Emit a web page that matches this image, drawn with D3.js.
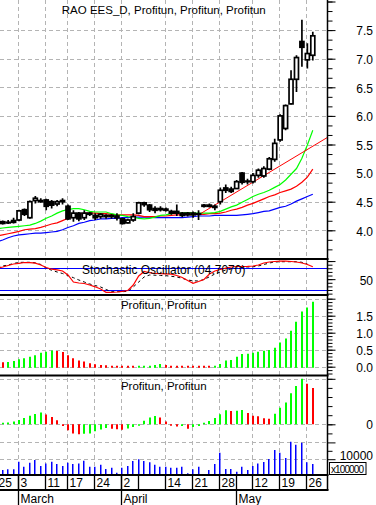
<!DOCTYPE html>
<html lang="en">
  <head>
    <meta charset="UTF-8" />
    <script src="https://d3js.org/d3.v7.min.js"></script>
    <title>RAO EES_D</title>
    <style>
      body { margin: 0; background: #fff; }
      svg { display: block; font-family: "Liberation Sans", Arial, sans-serif; }
    </style>
  </head>
  <body>
    <svg width="376" height="505"></svg>
    <script>
      // trading days, Feb 25 sits just left of the visible area
      var dates = ["02-25","02-26","02-27","02-28","03-03","03-04","03-05","03-06","03-07","03-11","03-12","03-13","03-14",
        "03-17","03-18","03-19","03-20","03-21","03-24","03-25","03-26","03-27","03-28","04-02","04-03","04-04",
        "04-07","04-08","04-09","04-10","04-11","04-14","04-15","04-16","04-17","04-18","04-21","04-22","04-23","04-24","04-25",
        "04-28","04-29","04-30","05-06","05-07","05-08","05-12","05-13","05-14","05-15","05-16","05-19","05-20","05-21","05-22","05-23",
        "05-26","05-27"];

      var open = [4.18,4.15,4.13,4.14,4.18,4.36,4.22,4.52,4.52,4.53,4.5,4.46,4.5,4.42,4.22,4.3,4.22,4.3,4.26,4.24,4.26,4.24,4.25,4.2,4.13,
        4.18,4.3,4.48,4.44,4.38,4.36,4.37,4.33,4.3,4.3,4.27,4.3,4.28,4.42,4.44,4.42,4.5,4.74,4.72,4.73,5.0,4.85,4.85,4.96,4.95,5.07,5.24,
        5.58,5.78,6.21,6.64,7.3,6.98,7.06];
      var high = [4.2,4.17,4.18,4.22,4.36,4.38,4.52,4.6,4.56,4.55,4.53,4.53,4.56,4.45,4.35,4.32,4.35,4.32,4.3,4.3,4.28,4.28,4.3,4.22,4.2,
        4.3,4.5,4.5,4.46,4.42,4.42,4.4,4.36,4.45,4.32,4.32,4.33,4.35,4.46,4.47,4.45,4.75,4.8,4.76,4.88,5.02,4.9,5.0,5.08,5.12,5.28,5.6,
        6.03,6.2,6.8,7.06,7.68,7.27,7.47];
      var low = [4.12,4.1,4.11,4.12,4.16,4.25,4.2,4.47,4.48,4.35,4.38,4.42,4.45,4.18,4.15,4.16,4.18,4.25,4.18,4.2,4.2,4.2,4.17,4.1,4.12,
        4.15,4.28,4.41,4.32,4.3,4.33,4.33,4.27,4.25,4.23,4.24,4.22,4.18,4.4,4.4,4.35,4.45,4.65,4.65,4.72,4.8,4.8,4.82,4.92,4.92,5.05,5.2,
        5.55,5.75,6.2,6.42,6.86,6.83,6.97];
      var close = [4.15,4.12,4.14,4.17,4.34,4.28,4.5,4.56,4.5,4.42,4.44,4.5,4.52,4.2,4.3,4.2,4.3,4.28,4.22,4.28,4.24,4.26,4.22,4.12,4.18,
        4.24,4.48,4.45,4.36,4.35,4.38,4.35,4.3,4.33,4.26,4.3,4.27,4.29,4.44,4.42,4.4,4.7,4.7,4.68,4.85,4.84,4.86,4.96,5.05,5.08,5.25,5.52,
        6.0,6.18,6.64,7.02,7.2,7.09,7.4];

      // moving averages
      var maGreen = [4.03,4.04,4.05,4.06,4.07,4.08,4.09,4.12,4.16,4.21,4.25,4.30,4.34,4.36,4.38,4.38,4.36,4.33,4.32,4.32,4.32,4.29,4.27,
        4.26,4.24,4.23,4.21,4.20,4.21,4.23,4.26,4.27,4.29,4.30,4.30,4.31,4.30,4.30,4.30,4.30,4.31,4.33,4.37,4.41,4.44,4.49,4.54,4.59,
        4.63,4.66,4.70,4.75,4.80,4.88,4.98,5.08,5.26,5.49,5.75];
      var maRed = [3.90,3.92,3.94,3.96,3.98,4.01,4.02,4.03,4.05,4.08,4.11,4.13,4.17,4.21,4.25,4.28,4.30,4.30,4.30,4.29,4.29,4.28,4.27,
        4.27,4.27,4.27,4.26,4.24,4.24,4.24,4.25,4.25,4.26,4.27,4.27,4.28,4.28,4.28,4.28,4.29,4.29,4.30,4.32,4.35,4.37,4.40,4.44,4.47,
        4.51,4.55,4.59,4.62,4.66,4.69,4.72,4.77,4.84,4.93,5.07];
      var maBlue = [3.80,3.83,3.87,3.90,3.92,3.93,3.94,3.95,3.95,3.96,3.97,3.98,4.01,4.05,4.08,4.12,4.14,4.17,4.18,4.20,4.20,4.21,4.21,
        4.22,4.22,4.23,4.23,4.23,4.23,4.22,4.22,4.22,4.22,4.22,4.22,4.23,4.24,4.25,4.25,4.25,4.26,4.26,4.26,4.26,4.26,4.27,4.28,4.29,
        4.31,4.33,4.34,4.37,4.40,4.42,4.46,4.51,4.55,4.59,4.63];
      // trend line through the April low
      var trendStart = ["04-22", 4.27];
      var trendEnd = ["05-27", 5.47];

      var stochK = [80,83.6,87.7,91.9,93.8,96,95.5,94.1,89.1,82.2,77.5,75.8,72.5,61.5,42.1,39.4,38,33.8,28.8,22.8,13.6,13.6,14.5,16.4,
        18.6,33.8,58.7,71.1,67.8,65.6,65.1,64.5,63.7,60.1,54.6,46.3,38.5,43.5,49,64.2,72.5,76.7,80.3,83.6,85,85,85.5,86.4,89.1,94.6,
        97.4,98.8,99.6,99.6,98.8,97.4,94.6,90.5,84.1];
      var stochD = [84,86.4,89.1,93.3,96.3,96.6,96.6,95.2,90.5,80.8,74.5,69.8,65.6,60.1,54,47.6,42.1,36.6,32.4,28.3,21.4,15.3,15.3,15.3,
        16.4,28.3,42.1,56,61.5,60.9,60.1,59.5,57.9,56,52.3,47.6,45.4,44.9,49,56.5,64.2,69.8,75.3,78.1,80.8,82.2,83.6,84.1,86.4,90.5,
        94.6,97.4,98.2,98.2,98.2,98.2,96.6,91.9,null];
      var stochLevels = [20, 80];

      var profitun1 = [0.16,0.13,0.14,0.17,0.22,0.25,0.29,0.34,0.41,0.44,0.48,0.46,0.43,0.34,0.25,0.18,0.15,0.10,0.07,0.05,0.045,0.03,
        0.02,0.015,0.01,-0.01,0.01,0.015,0.03,0.05,0.08,0.05,0.02,0.015,0.01,0.008,0.006,0.004,0.002,0.0,0.012,0.08,0.18,0.2,0.29,0.37,
        0.38,0.41,0.44,0.47,0.49,0.56,0.71,0.83,1.06,1.32,1.62,1.74,1.91];
      var profitun2 = [0.01,0.015,0.02,0.03,0.048,0.07,0.094,0.112,0.13,0.108,0.08,0.045,-0.02,-0.066,-0.1,-0.11,-0.105,-0.1,-0.077,
        -0.057,-0.04,-0.05,-0.055,-0.06,-0.045,-0.03,-0.01,0.04,0.075,0.09,0.075,0.03,-0.015,-0.025,-0.02,-0.05,-0.03,-0.02,0.005,0.036,
        0.07,0.11,0.154,0.146,0.15,0.156,0.124,0.095,0.088,0.066,0.06,0.117,0.183,0.24,0.34,0.42,0.5,0.446,0.40];
      var volume = [3000,3600,4000,4000,8500,5500,7900,9500,6000,7500,8500,7100,6000,7900,7100,7500,9100,5500,5500,6700,4200,4900,2000,
        4900,6000,8900,9900,8900,8200,6700,5500,5500,4900,4900,5500,1600,4000,5500,300,3600,7100,13900,4200,4200,2600,5500,3600,6000,
        7500,8300,10100,15500,13900,10700,20400,18600,19800,8200,7100];

      // axis labels
      var priceTicks = [4.0, 4.5, 5.0, 5.5, 6.0, 6.5, 7.0, 7.5];
      var stochTicks = [50];
      var prof1Ticks = [0.0, 0.5, 1.0, 1.5];
      var prof1Grid = [0.0, 0.5, 1.0, 1.5, 2.0];
      var prof2Ticks = [0];
      var prof2Grid = [0, 0.5];
      var volTicks = [10000];
      var volGrid = [10000, 20000];
      var weekTicks = [["02-25","25"],["03-03","3"],["03-11","11"],["03-17","17"],["03-24","24"],["04-02","2"],["04-07",""],
        ["04-14","14"],["04-21","21"],["04-28","28"],["05-12","12"],["05-19","19"],["05-26","26"]];
      var monthTicks = [["03-03","March"],["04-02","April"],["05-06","May"]];

      var svg = d3.select("svg");
      var W = 327.5; // right axis position
      var GREEN = "#00ff00", RED = "#ff0000", BLUE = "#0000ff";

      var x = d3.scalePoint().domain(dates).range([-2.74, 312.8]);
      var yPrice = d3.scaleLinear().domain([4, 7.5]).range([230.3, 30.1]);
      var yStoch = d3.scaleLinear().domain([20, 80]).range([290, 268.3]);
      var yProf1 = d3.scaleLinear().domain([0, 1.5]).range([366.7, 315.7]);
      var yProf2 = d3.scaleLinear().domain([0, 0.5]).range([424.3, 378.8]);
      var yVol = d3.scaleLinear().domain([0, 20000]).range([476, 442.4]);

      function px(d) { return Math.round(x(d)) - 0.5; }

      var panels = [
        { id: "p0", y0: 0, y1: 258 },
        { id: "p1", y0: 260, y1: 294 },
        { id: "p2", y0: 296, y1: 374.5 },
        { id: "p3", y0: 376.5, y1: 474 }
      ];
      var defs = svg.append("defs");
      panels.forEach(function (p) {
        defs.append("clipPath").attr("id", p.id)
          .append("rect").attr("x", 0).attr("y", p.y0).attr("width", W).attr("height", p.y1 - p.y0);
      });

      // ---- grid ----
      var grid = svg.append("g")
        .attr("stroke", "#b4b4b4").attr("stroke-width", 1).attr("stroke-dasharray", "4,3");
      weekTicks.filter(function (t) { return t[1] !== "" && x(t[0]) > 0; }).forEach(function (t) {
        grid.append("line").attr("x1", px(t[0])).attr("x2", px(t[0])).attr("y1", 0).attr("y2", 475);
      });
      function hgrid(vals, scale) {
        vals.forEach(function (v) {
          var yy = Math.round(scale(v)) + 0.5;
          grid.append("line").attr("x1", 0).attr("x2", W).attr("y1", yy).attr("y2", yy);
        });
      }
      hgrid(priceTicks, yPrice);
      hgrid(prof1Grid, yProf1);
      hgrid(prof2Grid, yProf2);
      hgrid(volGrid, yVol);

      // ---- price panel ----
      var gP = svg.append("g").attr("clip-path", "url(#p0)");
      function lineOf(arr, scale) {
        return d3.line()
          .defined(function (d) { return d != null; })
          .x(function (d, i) { return x(dates[i]); })
          .y(function (d) { return scale(d); })(arr);
      }
      gP.append("path").attr("d", lineOf(maBlue, yPrice)).attr("fill", "none").attr("stroke", BLUE).attr("stroke-width", 1.2);
      gP.append("path").attr("d", lineOf(maRed, yPrice)).attr("fill", "none").attr("stroke", RED).attr("stroke-width", 1.2);
      gP.append("path").attr("d", lineOf(maGreen, yPrice)).attr("fill", "none").attr("stroke", GREEN).attr("stroke-width", 1.2);

      var trendX = d3.scaleLinear().domain([x(trendStart[0]), x(trendEnd[0])]).range([trendStart[1], trendEnd[1]]);
      gP.append("line")
        .attr("x1", x(trendStart[0])).attr("y1", yPrice(trendStart[1]))
        .attr("x2", W).attr("y2", yPrice(trendX(W)))
        .attr("stroke", RED).attr("stroke-width", 1);

      var candles = gP.selectAll(".candle").data(dates).enter().append("g").attr("class", "candle");
      candles.append("line")
        .attr("x1", function (d) { return x(d); })
        .attr("x2", function (d) { return x(d); })
        .attr("y1", function (d, i) { return yPrice(high[i]); })
        .attr("y2", function (d, i) { return yPrice(low[i]); })
        .attr("stroke", "#000").attr("stroke-width", 1.7);
      candles.append("rect")
        .attr("x", function (d) { return x(d) - 2; })
        .attr("width", 4)
        .attr("y", function (d, i) { return yPrice(Math.max(open[i], close[i])); })
        .attr("height", function (d, i) { return Math.max(0.6, Math.abs(yPrice(open[i]) - yPrice(close[i]))); })
        .attr("fill", function (d, i) { return close[i] > open[i] ? "#fff" : "#000"; })
        .attr("stroke", "#000").attr("stroke-width", 1.7);

      svg.append("text").attr("x", W / 2).attr("y", 13.5).attr("text-anchor", "middle")
        .attr("font-size", "11.5px").text("RAO EES_D, Profitun, Profitun, Profitun");

      // ---- stochastic ----
      var gS = svg.append("g").attr("clip-path", "url(#p1)");
      stochLevels.forEach(function (v) {
        var yy = Math.round(yStoch(v)) + 0.5;
        gS.append("line").attr("x1", 0).attr("x2", W).attr("y1", yy).attr("y2", yy).attr("stroke", BLUE).attr("stroke-width", 1.2);
      });
      gS.append("path").attr("d", lineOf(stochD, yStoch)).attr("fill", "none")
        .attr("stroke", "#000").attr("stroke-width", 1).attr("stroke-dasharray", "3,3");
      gS.append("path").attr("d", lineOf(stochK, yStoch)).attr("fill", "none")
        .attr("stroke", RED).attr("stroke-width", 1.2);
      svg.append("text").attr("x", W / 2).attr("y", 273.5).attr("text-anchor", "middle")
        .attr("font-size", "12px").text("Stochastic Oscillator (04.7070)");

      // ---- profitun 1 ----
      var gA = svg.append("g").attr("clip-path", "url(#p2)");
      gA.selectAll("line.bar").data(dates).enter().append("line")
        .attr("class", "bar")
        .attr("x1", function (d) { return Math.round(x(d)); })
        .attr("x2", function (d) { return Math.round(x(d)); })
        .attr("y1", yProf1(0) + 1)
        .attr("y2", function (d, i) { return Math.min(yProf1(profitun1[i]), yProf1(0) - 1); })
        .attr("stroke", function (d, i) { return i > 0 && profitun1[i] >= profitun1[i - 1] ? GREEN : RED; })
        .attr("stroke-width", 2);
      svg.append("text").attr("x", W / 2).attr("y", 309).attr("text-anchor", "middle")
        .attr("font-size", "11.5px").text("Profitun, Profitun");

      // ---- profitun 2 + volume ----
      var gB = svg.append("g").attr("clip-path", "url(#p3)");
      gB.selectAll("line.vol").data(dates).enter().append("line")
        .attr("class", "vol")
        .attr("x1", function (d) { return Math.round(x(d)) - 0.25; })
        .attr("x2", function (d) { return Math.round(x(d)) - 0.25; })
        .attr("y1", yVol(0))
        .attr("y2", function (d, i) { return yVol(volume[i]); })
        .attr("stroke", BLUE).attr("stroke-width", 1.5);
      gB.selectAll("line.bar2").data(dates).enter().append("line")
        .attr("class", "bar2")
        .attr("x1", function (d) { return Math.round(x(d)); })
        .attr("x2", function (d) { return Math.round(x(d)); })
        .attr("y1", yProf2(0))
        .attr("y2", function (d, i) {
          var v = yProf2(profitun2[i]);
          return Math.abs(v - yProf2(0)) < 1.5 ? yProf2(0) - (profitun2[i] >= 0 ? 1.5 : -1.5) : v;
        })
        .attr("stroke", function (d, i) { return i > 0 && profitun2[i] >= profitun2[i - 1] ? GREEN : RED; })
        .attr("stroke-width", 2);
      svg.append("text").attr("x", W / 2).attr("y", 389.5).attr("text-anchor", "middle")
        .attr("font-size", "11.5px").text("Profitun, Profitun");

      // ---- panel borders and right axis ----
      var frame = svg.append("g").attr("stroke", "#000");
      [259, 295, 375.5, 475].forEach(function (yy) {
        frame.append("line").attr("x1", 0).attr("x2", W + 1).attr("y1", yy).attr("y2", yy).attr("stroke-width", 2);
      });
      frame.append("line").attr("x1", 0).attr("x2", W + 1).attr("y1", 490).attr("y2", 490).attr("stroke-width", 2);
      frame.append("line").attr("x1", W).attr("x2", W).attr("y1", 0).attr("y2", 490).attr("stroke-width", 1.5);

      function rightAxis(scale, minor, major, labels, fmt, y0, y1, dy) {
        var inside = function (v) { var yy = scale(v); return yy > y0 && yy < y1; };
        var g = svg.append("g").attr("transform", "translate(" + W + ",0)");
        g.append("g").call(d3.axisRight(scale).tickValues(minor.filter(inside)).tickSize(5).tickFormat(""))
          .call(function (a) { a.select(".domain").remove(); });
        g.append("g").call(d3.axisRight(scale).tickValues(major.filter(inside)).tickSize(8).tickFormat(""))
          .call(function (a) { a.select(".domain").remove(); });
        g.selectAll("text.lab").data(labels).enter().append("text")
          .attr("class", "lab")
          .attr("x", 45.5)
          .attr("y", function (d) { return scale(d) + dy; })
          .attr("text-anchor", "end")
          .attr("font-size", "12px")
          .text(fmt);
      }
      rightAxis(yPrice, d3.range(3.5, 8.05, 0.5 / 3), d3.range(3.5, 8.05, 0.5), priceTicks, d3.format(".1f"), 1, 258, 5.3);
      rightAxis(yStoch, d3.range(0, 101, 10), [0, 50, 100], stochTicks, d3.format("d"), 260, 294, 5.5);
      rightAxis(yProf1, d3.range(-0.2, 2.15, 0.1), d3.range(0, 2.05, 0.5), prof1Ticks, d3.format(".1f"), 297, 374, 5.3);
      rightAxis(yProf2, d3.range(-0.1, 0.55, 0.1), [0, 0.5], prof2Ticks, d3.format("d"), 377, 440, 4.2);
      rightAxis(yVol, [15000], volGrid, volTicks, d3.format("d"), 438, 474, 1.2);

      svg.append("rect").attr("x", 329.5).attr("y", 462.5).attr("width", 36.5).attr("height", 12)
        .attr("fill", "none").attr("stroke", "#000").attr("stroke-width", 1);
      svg.append("text").attr("x", 331).attr("y", 472.5).attr("font-size", "10px")
        .attr("textLength", 33).text("x100000");

      // ---- date axis ----
      var gx = svg.append("g");
      weekTicks.forEach(function (t) {
        var xx = px(t[0]);
        gx.append("line").attr("x1", xx).attr("x2", xx).attr("y1", 475).attr("y2", 490)
          .attr("stroke", "#000").attr("stroke-width", 1.3);
        gx.append("text").attr("x", xx + 2).attr("y", 487.3).attr("font-size", "12px").text(t[1]);
      });
      monthTicks.forEach(function (t) {
        var xx = px(t[0]);
        gx.append("line").attr("x1", xx).attr("x2", xx).attr("y1", 475).attr("y2", 505)
          .attr("stroke", "#000").attr("stroke-width", 1.3);
        gx.append("text").attr("x", xx + 2).attr("y", 502.5).attr("font-size", "12px").text(t[1]);
      });
    </script>
  </body>
</html>
